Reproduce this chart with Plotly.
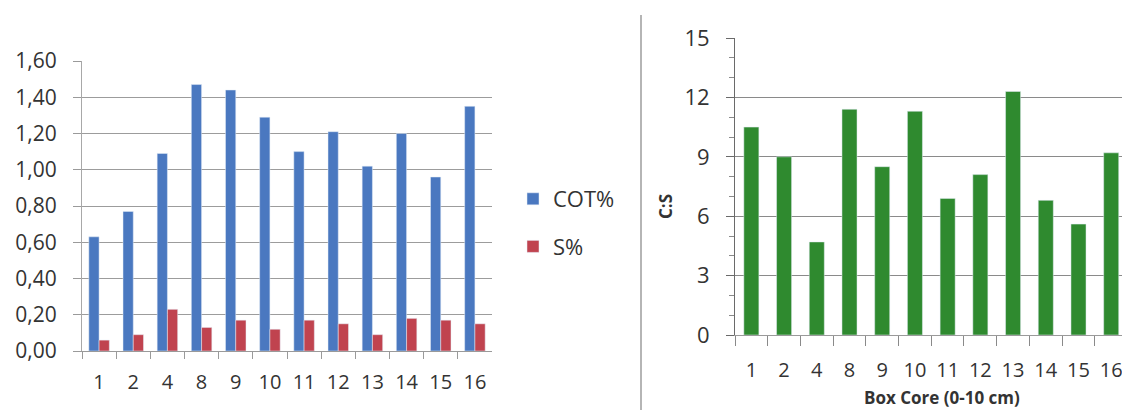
import plotly.graph_objects as go

# Box core stations (0-10 cm)
stations = ["1", "2", "4", "8", "9", "10", "11", "12", "13", "14", "15", "16"]
cot_pct = [0.63, 0.77, 1.09, 1.47, 1.44, 1.29, 1.10, 1.21, 1.02, 1.20, 0.96, 1.35]
s_pct = [0.06, 0.09, 0.23, 0.13, 0.17, 0.12, 0.17, 0.15, 0.09, 0.18, 0.17, 0.15]
c_to_s = [10.5, 9.0, 4.7, 11.4, 8.5, 11.3, 6.9, 8.1, 12.3, 6.8, 5.6, 9.2]
left_ticks = [0.0, 0.2, 0.4, 0.6, 0.8, 1.0, 1.2, 1.4, 1.6]
left_tick_text = ["0,00", "0,20", "0,40", "0,60", "0,80", "1,00", "1,20", "1,40", "1,60"]

W, H = 1122, 410
FONT = "Open Sans"
TXT = "#333333"
BLUE = "#4a78c0"
RED = "#c0434f"
GREEN = "#2f8a2f"


def px(x):
    return x / W


def py(y):
    return (H - y) / H


fig = go.Figure()

# Left panel: COT% and S% side by side
fig.add_trace(go.Bar(
    x=stations, y=cot_pct, name="COT%", marker_color=BLUE,
    width=0.3, offset=-0.3, xaxis="x", yaxis="y", legendgroup="a",
))
fig.add_trace(go.Bar(
    x=stations, y=s_pct, name="S%", marker_color=RED,
    width=0.3, offset=0.0, xaxis="x", yaxis="y", legendgroup="b",
))

# Right panel: C:S ratio
fig.add_trace(go.Bar(
    x=stations, y=c_to_s, name="C:S", marker_color=GREEN,
    width=0.46, xaxis="x2", yaxis="y2", showlegend=False,
))

fig.update_layout(
    width=W, height=H,
    margin=dict(l=0, r=0, t=0, b=0),
    paper_bgcolor="white", plot_bgcolor="white",
    font=dict(family=FONT, color=TXT),
    barmode="group",
    showlegend=True,
    legend=dict(
        x=px(513), y=py(178), xanchor="left", yanchor="top",
        font=dict(family=FONT, size=22, color=TXT),
        tracegroupgap=16, bgcolor="rgba(0,0,0,0)",
    ),
    xaxis=dict(
        domain=[px(82), px(492)], anchor="y", type="category", automargin=False,
        range=[-0.5, 11.5], tickson="boundaries",
        ticks="outside", ticklen=7, tickcolor="#9a9a9a",
        showline=True, linecolor="#9a9a9a", linewidth=1,
        showgrid=False, tickfont=dict(size=20, color=TXT),
        ticklabelstandoff=13, tickangle=0,
    ),
    yaxis=dict(
        domain=[py(351), py(61)], anchor="x", automargin=False,
        range=[0, 1.6], tickvals=left_ticks, ticktext=left_tick_text,
        ticks="outside", ticklen=8, tickcolor="#9a9a9a",
        showline=True, linecolor="#a8a8a8", linewidth=1,
        showgrid=True, gridcolor="#9c9c9c", gridwidth=1,
        zeroline=False, tickfont=dict(size=21, color=TXT),
        ticklabelstandoff=12,
    ),
    xaxis2=dict(
        domain=[px(735), 1.0], anchor="y2", type="category", automargin=False,
        range=[-0.5, 11.33], tickson="boundaries",
        ticks="outside", ticklen=10, tickcolor="#8a8a8a",
        showline=True, linecolor="#9a9a9a", linewidth=1,
        showgrid=False, tickfont=dict(size=20, color=TXT),
        ticklabelstandoff=17, tickangle=0,
    ),
    yaxis2=dict(
        domain=[py(335), py(38)], anchor="x2", automargin=False,
        range=[0, 15], dtick=3,
        ticks="outside", ticklen=8, tickcolor="#6a6a6a",
        minor=dict(dtick=1, ticks="outside", ticklen=5, tickcolor="#8a8a8a", showgrid=False),
        showline=True, linecolor="#6a6a6a", linewidth=1,
        showgrid=True, gridcolor="#8a8a8a", gridwidth=1,
        zeroline=False, tickfont=dict(size=22, color=TXT),
        ticklabelstandoff=12,
    ),
    annotations=[
        dict(text="<b>C:S</b>", x=px(665), y=py(207), xref="paper", yref="paper",
             textangle=-90, showarrow=False, font=dict(size=17, color=TXT),
             xanchor="center", yanchor="middle"),
        dict(text="<b>Box Core (0-10 cm)</b>", x=px(942), y=py(397), xref="paper", yref="paper",
             showarrow=False, font=dict(size=17, color=TXT),
             xanchor="center", yanchor="middle"),
    ],
    shapes=[
        dict(type="line", xref="paper", yref="paper",
             x0=px(641), x1=px(641), y0=0, y1=py(15),
             line=dict(color="#9c9c9c", width=1.5)),
    ],
)

fig.write_html("out.html")
